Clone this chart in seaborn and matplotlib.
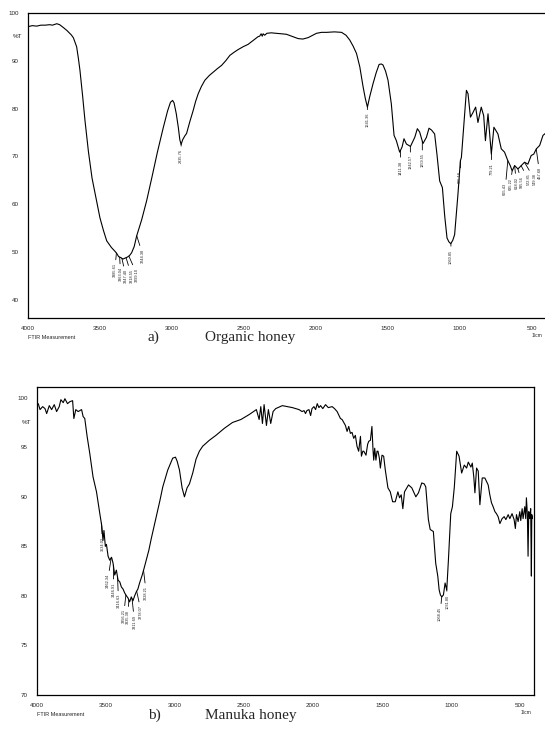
import numpy as np
import pandas as pd
import matplotlib
matplotlib.use('Agg')
import matplotlib.pyplot as plt
from matplotlib.ticker import MultipleLocator, FixedLocator
import seaborn as sns

# --- Organic honey spectrum (wavenumber 1/cm, %T) ---
organic_wn = [3998, 3970, 3940, 3910, 3880, 3850, 3830, 3800, 3780, 3750, 3730, 3700, 3685, 3662,
              3650, 3639, 3620, 3604, 3580, 3555, 3523, 3500, 3475, 3453, 3420, 3395, 3384, 3370,
              3355, 3340, 3325, 3310, 3295, 3280, 3262, 3245, 3210, 3176, 3140, 3100, 3060, 3030,
              3010, 2995, 2985, 2970, 2955, 2945, 2936, 2925, 2910, 2898, 2875, 2852, 2835, 2817,
              2795, 2771, 2740, 2713, 2685, 2655, 2625, 2597, 2570, 2540, 2505, 2470, 2435, 2401,
              2390, 2380, 2372, 2366, 2355, 2340, 2310, 2273, 2240, 2204, 2160, 2123, 2090, 2053,
              2020, 1995, 1960, 1925, 1870, 1821, 1790, 1764, 1740, 1717, 1694, 1671, 1655, 1641,
              1625, 1602, 1580, 1560, 1545, 1533, 1515, 1498, 1475, 1456, 1440, 1417, 1400, 1387,
              1370, 1342, 1312, 1294, 1278, 1255, 1231, 1213, 1195, 1174, 1158, 1139, 1120, 1104,
              1088, 1075, 1062, 1048, 1035, 1012, 995, 988, 972, 953, 942, 925, 907, 889, 873, 850,
              833, 821, 803, 780, 762, 734, 711, 688, 665, 650, 635, 618, 595, 572, 549, 526, 503,
              485, 467, 444, 421, 405]
organic_t = [97.1, 97.3, 97.2, 97.4, 97.4, 97.5, 97.4, 97.7, 97.5, 96.8, 96.3, 95.4, 94.8, 92.9,
             90.5, 88.0, 82.5, 77.5, 71.0, 65.5, 60.7, 57.2, 54.5, 52.4, 51.0, 50.2, 49.8, 49.1,
             48.9, 48.6, 48.8, 49.0, 49.3, 49.9, 51.2, 53.4, 56.8, 60.7, 65.5, 71.0, 76.0, 79.5,
             81.3, 81.7, 81.2, 79.0, 76.0, 73.5, 72.5, 73.5, 74.3, 74.8, 77.3, 79.6, 81.5, 83.1,
             84.6, 85.9, 86.9, 87.6, 88.3, 89.0, 90.0, 91.1, 91.7, 92.3, 92.9, 93.4, 94.2, 95.0,
             95.1, 95.6, 95.1, 95.6, 95.3, 95.7, 95.8, 95.7, 95.6, 95.5, 95.0, 94.6, 94.5, 94.8,
             95.3, 95.7, 95.9, 95.9, 96.0, 95.9, 95.3, 94.3, 93.0, 91.5, 88.7, 84.5, 82.0, 80.3,
             82.5, 85.2, 87.5, 89.2, 89.3, 89.1, 87.8, 85.9, 81.0, 74.4, 73.3, 70.9, 72.0, 73.7,
             72.6, 72.1, 74.0, 75.8, 75.1, 72.7, 74.0, 75.9, 75.5, 74.7, 70.5, 64.9, 63.5, 57.6,
             53.0, 52.2, 51.8, 52.5, 53.7, 62.1, 69.1, 69.8, 76.1, 83.8, 83.1, 78.2, 79.2, 80.3,
             77.1, 80.3, 78.5, 73.3, 78.9, 70.5, 76.1, 74.7, 71.6, 70.9, 69.1, 68.2, 67.0, 68.1,
             67.4, 68.1, 68.8, 68.4, 70.2, 70.5, 71.6, 72.3, 74.4, 74.8]

# --- Manuka honey spectrum ---
manuka_wn = [3991, 3978, 3959, 3942, 3930, 3911, 3894, 3875, 3858, 3839, 3827, 3810, 3798, 3779,
             3762, 3742, 3733, 3719, 3702, 3677, 3666, 3654, 3637, 3618, 3594, 3569, 3545, 3530,
             3522, 3515, 3505, 3497, 3485, 3473, 3460, 3449, 3437, 3425, 3413, 3400, 3389, 3377,
             3365, 3352, 3341, 3329, 3317, 3305, 3293, 3281, 3269, 3257, 3238, 3224, 3209, 3190,
             3172, 3136, 3110, 3089, 3053, 3017, 2997, 2985, 2968, 2949, 2932, 2913, 2896, 2872,
             2848, 2824, 2800, 2752, 2704, 2644, 2584, 2523, 2463, 2411, 2391, 2379, 2367, 2355,
             2338, 2324, 2307, 2290, 2271, 2223, 2150, 2102, 2080, 2066, 2055, 2045, 2030, 2018,
             2008, 1994, 1982, 1970, 1958, 1946, 1930, 1910, 1890, 1862, 1845, 1826, 1802, 1790,
             1778, 1766, 1754, 1742, 1730, 1718, 1706, 1694, 1682, 1670, 1657, 1650, 1640, 1633,
             1617, 1605, 1597, 1585, 1574, 1566, 1561, 1554, 1545, 1537, 1530, 1520, 1513, 1501,
             1489, 1477, 1458, 1441, 1424, 1405, 1386, 1374, 1362, 1350, 1338, 1309, 1285, 1256,
             1237, 1213, 1195, 1184, 1165, 1152, 1129, 1112, 1097, 1087, 1078, 1068, 1056, 1044,
             1032, 1020, 1003, 991, 977, 960, 943, 924, 905, 888, 876, 857, 847, 836, 828, 816,
             804, 792, 775, 756, 732, 720, 708, 696, 683, 672, 660, 647, 631, 616, 604, 587, 575,
             559, 544, 535, 527, 515, 503, 496, 486, 479, 467, 460, 455, 448, 443, 438, 431, 424,
             419, 416, 412]
manuka_t = [99.4, 98.8, 99.1, 98.9, 98.4, 99.2, 98.8, 99.3, 98.6, 99.1, 99.8, 99.5, 99.9, 99.4,
            99.6, 99.7, 97.9, 98.8, 98.6, 98.8, 98.1, 97.9, 96.1, 94.4, 92.0, 90.5, 88.3, 87.0,
            85.6, 86.6, 85.0, 85.2, 84.0, 83.6, 83.9, 83.3, 82.1, 82.6, 81.6, 81.4, 80.9, 80.7,
            80.3, 80.0, 79.8, 79.4, 79.9, 79.5, 80.0, 80.4, 80.7, 81.3, 82.1, 82.8, 83.6, 84.6,
            85.8, 88.0, 89.6, 91.0, 92.7, 93.9, 94.0, 93.6, 92.7, 90.9, 90.0, 90.9, 91.3, 92.4,
            93.8, 94.6, 95.1, 95.7, 96.2, 96.9, 97.5, 97.8, 98.3, 98.8, 97.8, 99.1, 97.4, 99.3,
            97.2, 98.8, 97.4, 98.6, 98.9, 99.2, 99.0, 98.8, 98.6, 98.7, 98.4, 98.7, 98.8, 98.2,
            98.9, 99.1, 98.8, 99.4, 99.0, 99.2, 98.9, 99.3, 99.0, 99.1, 98.9, 98.6, 97.9, 97.8,
            97.5, 97.2, 96.6, 97.1, 96.4, 96.5, 95.9, 96.2, 95.1, 94.6, 96.1, 94.1, 94.6, 94.6,
            94.2, 95.3, 95.6, 95.7, 97.1, 94.7, 93.7, 94.9, 93.7, 94.6, 94.6, 93.9, 92.9, 94.2,
            94.1, 92.7, 90.9, 90.5, 89.5, 89.5, 90.5, 89.9, 90.2, 88.8, 90.5, 91.2, 90.9, 90.0,
            90.4, 91.4, 91.3, 91.0, 87.7, 86.7, 86.5, 83.3, 82.0, 80.6, 80.1, 79.9, 80.1, 81.3,
            80.6, 83.6, 88.3, 89.0, 91.0, 94.6, 94.1, 92.4, 93.2, 92.9, 93.5, 93.0, 93.4, 92.0,
            90.4, 92.9, 92.6, 89.2, 91.9, 91.9, 91.2, 90.2, 89.4, 89.0, 88.5, 88.3, 88.0, 87.3,
            87.8, 88.0, 87.7, 88.2, 87.8, 88.3, 87.7, 86.8, 88.2, 87.5, 88.5, 87.6, 88.8, 87.8,
            89.0, 87.8, 89.9, 88.2, 84.0, 88.5, 87.8, 88.8, 82.0, 88.2, 87.8]

# peak picks printed by the instrument
organic_peaks = [3385.61, 3363.04, 3347.40, 3318.55, 3299.10, 3244.38, 2935.76, 1641.36,
                 1411.38, 1342.57, 1259.55, 1060.85, 995.18, 779.21, 665.43, 635.22,
                 618.02, 595.56, 572.85, 549.38, 467.68]
manuka_peaks = [3534.02, 3462.34, 3446.91, 3416.63, 3356.21, 3335.38, 3311.69, 3278.07,
                3228.21, 1068.45, 1031.80]

# label offsets (px): where the printed numbers sit relative to the picked point
organic_dx = [-1.6, 1.0, 4.0, 5.5, 8.4, 6.4, 0, 0, 0, 0, 0, 0, 0, 0,
              -2.6, -1.7, 1.7, 4.0, 7.3, 10.0, 3.3]
organic_dy = [10, 10, 11, 11, 12, 13, 5, 6, 10, 9, 12, 6, 10, 10,
              22, 7, 11, 7, 8, 11, 18]
manuka_dx = [1.4, -3.6, 0.2, 1.0, -2.3, -0.5, 2.5, 4.6, 2.7, -1.6, 0.5]
manuka_dy = [14, 16, 17, 17, 14, 10, 16, 14, 16, 10, 5]

DPI = 100
PX = 72 / DPI


def draw_panel(ax, wn, t, peaks, dx, dy, ylim, ymajor, yminor, pct_y):
    df = pd.DataFrame({'wn': wn, 'T': t})
    sns.lineplot(data=df, x='wn', y='T', sort=False, estimator=None,
                 color='black', lw=0.8, ax=ax)
    ax.set_xlim(4000, 400)
    ax.set_ylim(*ylim)
    ax.set_xlabel('')
    ax.set_ylabel('')

    ax.xaxis.set_major_locator(FixedLocator([4000, 3500, 3000, 2500, 2000, 1500, 1000, 500]))
    ax.xaxis.set_minor_locator(MultipleLocator(100))
    ax.yaxis.set_major_locator(MultipleLocator(ymajor))
    ax.yaxis.set_minor_locator(MultipleLocator(yminor))
    ax.tick_params(axis='x', which='major', direction='out', length=4.5, width=0.8,
                   labelsize=4.5, pad=1.5)
    ax.tick_params(axis='x', which='minor', direction='out', length=2.5, width=0.8)
    ax.tick_params(axis='y', which='both', direction='out', length=5.5, width=0.8,
                   labelsize=4.5, pad=1)
    for s in ax.spines.values():
        s.set_color('black')
        s.set_linewidth(0.9)

    ax.text(-0.012, pct_y, '%T', transform=ax.get_yaxis_transform(), fontsize=4.5,
            ha='right', va='center')
    ax.text(0.0, -0.055, 'FTIR Measurement', transform=ax.transAxes, fontsize=4,
            ha='left', va='top')
    ax.text(500, -0.048, '1/cm', transform=ax.get_xaxis_transform(), fontsize=3.5,
            ha='left', va='top')

    # peak labels with leader lines
    xs = np.array(wn)[::-1]
    ys = np.array(t)[::-1]
    for p, ddx, ddy in zip(peaks, dx, dy):
        yp = np.interp(p, xs, ys)
        ax.annotate(f'{p:.2f}', xy=(p, yp), xytext=(ddx * PX, -ddy * PX),
                    textcoords='offset points', rotation=90, fontsize=2.8,
                    ha='center', va='top', color='#222222',
                    arrowprops=dict(arrowstyle='-', lw=0.6, color='black',
                                    shrinkA=0, shrinkB=0))


sns.set_style('white')
plt.rcParams['font.family'] = ['Liberation Sans', 'DejaVu Sans']

fig = plt.figure(figsize=(545 / DPI, 732 / DPI), dpi=DPI)

ax1 = fig.add_axes([28 / 545, 1 - 318 / 732, 518 / 545, 305.3 / 732])
draw_panel(ax1, organic_wn, organic_t, organic_peaks, organic_dx, organic_dy,
           (36.3, 100), 10, 2, 95)

ax2 = fig.add_axes([37 / 545, 1 - 695 / 732, 497 / 545, 308 / 732])
draw_panel(ax2, manuka_wn, manuka_t, manuka_peaks, manuka_dx, manuka_dy,
           (70, 101.08), 5, 1, 97.5)

cap = dict(fontsize=11, family=['Liberation Serif', 'DejaVu Serif'], va='center', ha='left')
fig.text(148 / 545, 1 - 337 / 732, 'a)', **cap)
fig.text(205 / 545, 1 - 337 / 732, 'Organic honey', **cap)
fig.text(148 / 545, 1 - 715 / 732, 'b)', **cap)
fig.text(205 / 545, 1 - 715 / 732, 'Manuka honey', **cap)

fig.savefig('out.png', dpi=DPI)
